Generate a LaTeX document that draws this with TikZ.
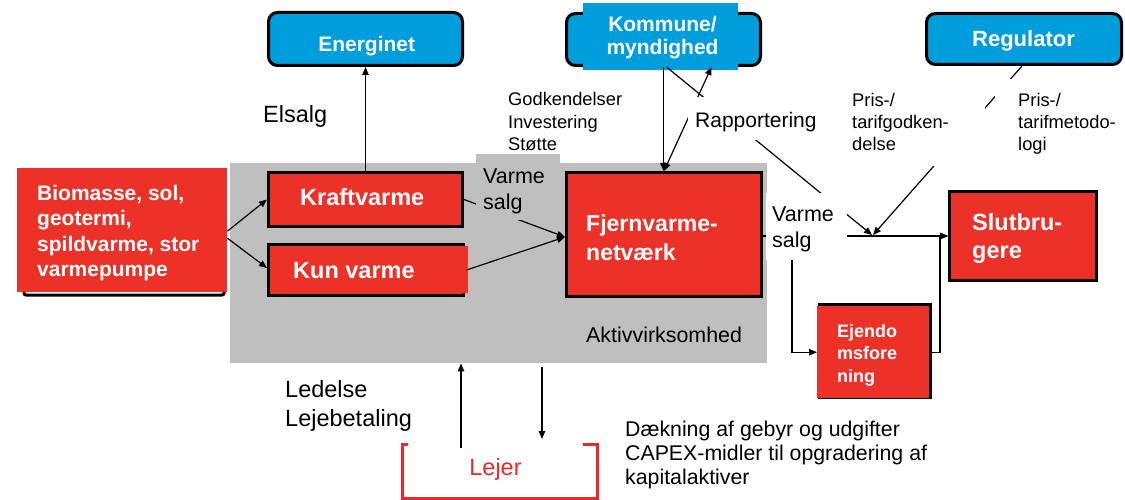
\documentclass[tikz,border=0pt]{standalone}
\usepackage{fontspec}
\setmainfont{Liberation Sans}
\usetikzlibrary{arrows.meta,calc}

\definecolor{boxred}{RGB}{236,49,41}
\definecolor{boxblue}{RGB}{0,157,220}
\definecolor{areagray}{RGB}{191,191,191}
\definecolor{lejerred}{RGB}{238,38,38}

\newcommand\setfs[2]{\fontsize{#1}{#2}\selectfont}

\tikzset{
  arr/.style={-{Triangle[length=8pt,width=6.5pt]}, line width=1.2pt},
  dblarr/.style={{Triangle[length=8pt,width=6.5pt]}-{Triangle[length=8pt,width=6.5pt]}, line width=1.2pt},
  redbox/.style={draw=black, line width=3pt, fill=boxred, inner sep=0pt},
  bluebox/.style={draw=black, line width=3pt, fill=boxblue, rounded corners=9pt, inner sep=0pt},
  boxtxt/.style={text=white, font=\bfseries, inner sep=0pt},
  % multi-line labels: the base anchor sits on the last line's baseline
  lbl/.style={anchor=base west, align=left, inner sep=0pt},
  cover/.style={fill=white},
}

\begin{document}
\begin{tikzpicture}[x=1pt,y=-1pt]
\useasboundingbox[fill=white] (0,0) rectangle (1125,500);

% shaded area of the asset company
\node[fill=areagray, inner sep=0pt, minimum width=537pt, minimum height=200pt, anchor=north west] (aktiv) at (230,163) {};

% heat sources
\draw[black, line width=3pt, rounded corners=2pt] (24,174) rectangle (224,295);
\node[fill=boxred, inner sep=0pt, minimum width=210pt, minimum height=124pt, anchor=north west] (bio) at (17,168) {};

% production units
\node[redbox, minimum width=194pt, minimum height=54pt] (kraft) at (365.5,199.5) {};
\node[redbox, minimum width=195pt, minimum height=51pt] (kun) at (366,270) {};
\fill[boxred] (270,246) rectangle (468,293);

% district heating network and customers
\node[redbox, minimum width=195pt, minimum height=124pt] (fjern) at (664,234.5) {};
\node[redbox, minimum width=147pt, minimum height=89pt] (slut) at (1023,236) {};
\fill[black] (818,303) rectangle (932,399);
\node[fill=boxred, inner sep=0pt, minimum width=112pt, minimum height=92pt, anchor=north west] (ejendom) at (817,306) {};

% authorities
\node[bluebox, minimum width=194pt, minimum height=53pt] (energinet) at (365.5,39) {};
\node[bluebox, minimum width=194pt, minimum height=52pt] (kommune) at (663.5,39.5) {};
\fill[boxblue] (583,3) rectangle (738,70);
\node[bluebox, minimum width=195pt, minimum height=51pt] (regulator) at (1024,39) {};

% tenant
\node[inner sep=0pt, minimum width=195pt, minimum height=54pt, anchor=north west] (lejer) at (402,444) {};
\draw[lejerred, line width=3pt] ([xshift=6pt]lejer.north west) -- (lejer.north west) -- (lejer.south west)
  -- (lejer.south east) -- (lejer.north east) -- ([xshift=-14pt]lejer.north east);

% helper coordinates for routed connectors
\coordinate (jn) at (872,235);
\coordinate (vt) at (792,0);
\coordinate (vr) at (940,0);
\coordinate (lu) at (461,0);
\coordinate (ld) at (542,0);

% connectors
\draw[arr] ([yshift=-1pt]bio.east) -- (kraft.west);
\draw[arr] ([yshift=-8pt]bio.east) -- ([yshift=2pt]kun.west);
\draw[arr] (kraft.north) -- (energinet.south);
\draw[arr] (kraft.east) -- ([yshift=-2.5pt]fjern.west);
\draw[arr] ([xshift=1.5pt]kun.east) -- ([yshift=-2.5pt]fjern.west);
\draw[arr] (kommune.south) -- (kommune.south |- fjern.north);
\draw[dblarr] (fjern.north) -- ([xshift=48pt]kommune.south);
\draw[arr] ([xshift=3pt]kommune.south) -- (jn);
\draw[arr] ([xshift=-2pt]regulator.south) -- ([xshift=1pt]jn);
\draw[arr] (fjern.east |- slut.west) -- (slut.west);
\draw[arr] (fjern.east |- slut.west) -| (vt |- ejendom.west) -- (ejendom.west);
\draw[arr] (ejendom.east) -| (vr |- slut.west) -- (slut.west);
\draw[arr] ([yshift=-4pt]lu |- lejer.north) -- (lu |- aktiv.south);
\draw[arr] ([yshift=-4pt]ld |- aktiv.south) -- ([yshift=5pt]ld |- lejer.north);

% label backgrounds
\fill[areagray] (476,154) rectangle (560,220);
\fill[cover] (688,97) rectangle (830,140);
\fill[cover] (766,193) rectangle (847,260);
\fill[cover] (995,79) rectangle (1110,158);
\fill[cover] (845,88) rectangle (985,166);

% box texts
\node[boxtxt, lbl, font=\bfseries\setfs{21}{25.5}] (biotxt) at (37,276.5) {Biomasse, sol,\\geotermi,\\spildvarme, stor\\varmepumpe};
\node[boxtxt, lbl, font=\bfseries\setfs{23.5}{28}] (krafttxt) at (300,205) {Kraftvarme};
\node[boxtxt, lbl, font=\bfseries\setfs{23.5}{28}] (kuntxt) at (293,278) {Kun varme};
\node[boxtxt, lbl, font=\bfseries\setfs{23}{29}] (fjerntxt) at (586,260) {Fjernvarme-\\netværk};
\node[boxtxt, lbl, font=\bfseries\setfs{23.5}{28}] (sluttxt) at (972,258) {Slutbru-\\gere};
\node[boxtxt, lbl, font=\bfseries\setfs{18}{22.5}] (ejtxt) at (837,382) {Ejendo\\msfore\\ning};
\node[boxtxt, anchor=base, font=\bfseries\setfs{21}{23}] (energinettxt) at (366.7,51.7) {Energinet};
\node[boxtxt, anchor=base, align=center, font=\bfseries\setfs{21}{23}] (kommunetxt) at (662.5,55) {Kommune/\\myndighed};
\node[boxtxt, anchor=base, font=\bfseries\setfs{22}{24}] (regtxt) at (1023.5,47) {Regulator};
\node[anchor=base, inner sep=0pt, text=lejerred, font=\setfs{23.5}{28}] (lejertxt) at (495.5,475) {Lejer};

% flow labels
\node[lbl, font=\setfs{23.5}{28}] (elsalg) at (263,123) {Elsalg};
\node[lbl, font=\setfs{18.3}{22.5}] (godk) at (508,151) {Godkendelser\\Investering\\Støtte};
\node[lbl, font=\setfs{21}{25}] (rapp) at (695,128) {Rapportering};
\node[lbl, font=\setfs{18.3}{22}] (pris1) at (852,151) {Pris-/\\tarifgodken-\\delse};
\node[lbl, font=\setfs{18.3}{22}] (pris2) at (1018,151) {Pris-/\\tarifmetodo-\\logi};
\node[lbl, font=\setfs{21.5}{27}] (vsalgL) at (483,210) {Varme\\salg};
\node[lbl, font=\setfs{21.5}{25}] (vsalgR) at (772,247) {Varme\\salg};
\node[lbl, font=\setfs{21.4}{25}] (aktivtxt) at (586,342) {Aktivvirksomhed};
\node[lbl, font=\setfs{23.5}{29}] (ledelse) at (285,426) {Ledelse\\Lejebetaling};
\node[lbl, font=\setfs{21.3}{24}] (daekning) at (625,484) {Dækning af gebyr og udgifter\\CAPEX-midler til opgradering af\\kapitalaktiver};
\end{tikzpicture}
\end{document}
